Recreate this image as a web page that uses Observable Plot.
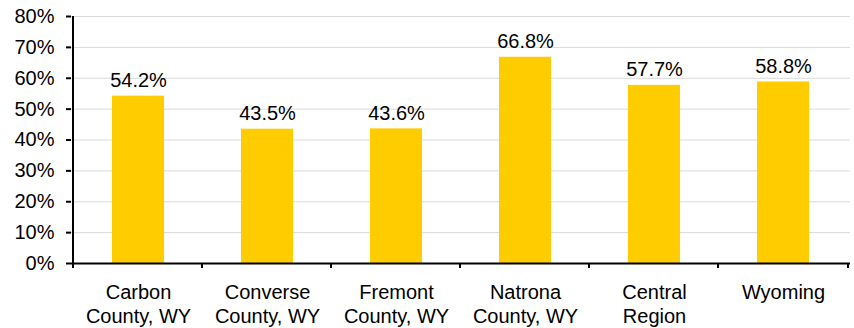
<!DOCTYPE html>
<html>
<head>
<meta charset="utf-8">
<script src="https://cdn.jsdelivr.net/npm/d3@7"></script>
<script src="https://cdn.jsdelivr.net/npm/@observablehq/plot@0.6"></script>
<style>
  html, body { margin: 0; padding: 0; background: #fff; }
  svg { font-family: "Liberation Sans", Arial, sans-serif; }
</style>
</head>
<body>
<div id="chart"></div>
<script>
const categories = ["Carbon County, WY", "Converse County, WY", "Fremont County, WY", "Natrona County, WY", "Central Region", "Wyoming"];
const axisLabels = ["Carbon\nCounty, WY", "Converse\nCounty, WY", "Fremont\nCounty, WY", "Natrona\nCounty, WY", "Central\nRegion", "Wyoming"];
const values = [54.2, 43.5, 43.6, 66.8, 57.7, 58.8];
const yTicks = [0, 10, 20, 30, 40, 50, 60, 70, 80];

const data = categories.map((c, i) => ({name: c, label: axisLabels[i], value: values[i]}));

const plot = Plot.plot({
  width: 854,
  height: 328,
  marginLeft: 71,
  marginRight: 4,
  marginTop: 16,
  marginBottom: 65,
  style: {fontFamily: "Liberation Sans, Arial, sans-serif", fontSize: "20px", color: "#000", background: "#fff"},
  x: {domain: categories, paddingInner: 0.6, paddingOuter: 0.3, axis: null},
  y: {domain: [0, 80], axis: null},
  marks: [
    Plot.ruleY(yTicks, {stroke: "#d9d9d9", strokeWidth: 1}),
    Plot.barY(data, {x: "name", y: "value", fill: "#FFCC00"}),
    Plot.text(data, {x: "name", y: "value", text: d => d.value.toFixed(1) + "%", dy: -9, lineAnchor: "bottom", fontSize: 20, fill: "#000"}),
    Plot.axisY({ticks: yTicks, tickFormat: d => d + "%", label: null, tickSize: 5, tickPadding: 12, fontSize: 20, stroke: "#000", strokeWidth: 2, fill: "#000"}),
    Plot.text(data, {x: "name", y: 0, text: "label", dy: 18, lineAnchor: "top", lineHeight: 1.22, fontSize: 20, fill: "#000"}),
    Plot.ruleY([0], {stroke: "#000", strokeWidth: 2})
  ]
});

// Excel-style category boundary ticks and left axis line, from the library's scales
const xs = plot.scale("x");
const ys = plot.scale("y");
const bw = xs.bandwidth;
const step = bw / (1 - 0.6);
const starts = categories.map(c => xs.apply(c) - (step - bw) / 2);
starts.push(starts[starts.length - 1] + step);
const y0 = ys.apply(0);
const yTop = ys.apply(80);
const svg = d3.select(plot);
const g = svg.append("g").attr("stroke", "#000").attr("stroke-width", 2);
g.selectAll("line.b").data(starts).join("line")
  .attr("x1", d => d).attr("x2", d => d).attr("y1", y0).attr("y2", y0 + 5);
g.append("line").attr("x1", starts[0]).attr("x2", starts[0]).attr("y1", yTop).attr("y2", y0);

document.getElementById("chart").appendChild(plot);
</script>
</body>
</html>
